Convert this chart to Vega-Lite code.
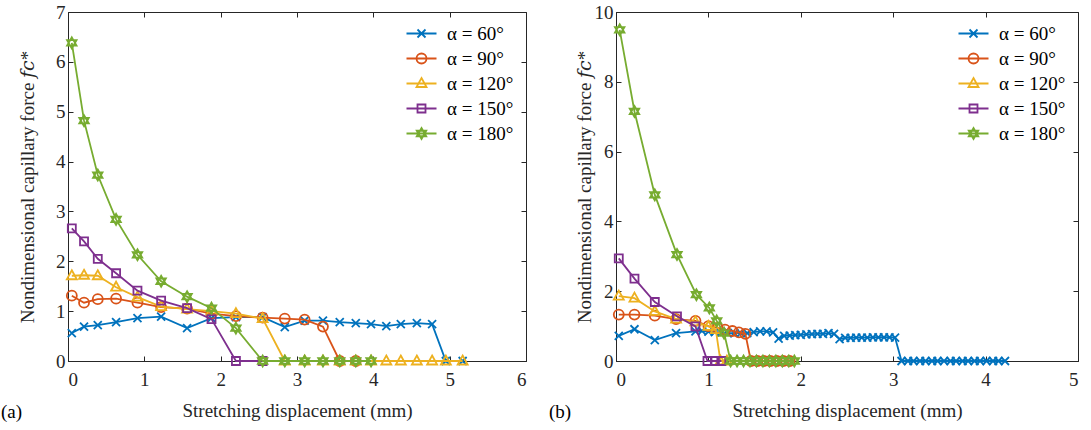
{
  "$schema": "https://vega.github.io/schema/vega-lite/v6.json",
  "background": "white",
  "autosize": {"type": "pad"},
  "padding": {"left": 0, "top": 2, "right": 4, "bottom": 0},
  "spacing": 21,
  "resolve": {"scale": {"color": "independent", "shape": "independent"}, "legend": {"color": "independent", "shape": "independent"}},
  "config": {
    "font": "Liberation Serif",
    "view": {"stroke": "#262626", "strokeWidth": 1},
    "axis": {
      "grid": false,
      "domainColor": "#262626",
      "tickColor": "#262626",
      "labelColor": "#262626",
      "titleColor": "#262626",
      "labelFont": "Liberation Serif",
      "titleFont": "Liberation Serif, DejaVu Serif",
      "labelFontSize": 19,
      "titleFontSize": 19,
      "titleFontWeight": "normal",
      "tickSize": -5,
      "labelPadding": 8
    },
    "axisX": {"titlePadding": 12, "labelPadding": 14},
    "axisY": {"titlePadding": 8},
    "legend": {
      "orient": "top-right",
      "offset": 8,
      "padding": 4,
      "labelFont": "Liberation Serif",
      "labelFontSize": 19,
      "labelColor": "#000000",
      "symbolSize": 100,
      "symbolStrokeWidth": 1.8,
      "labelOffset": 16,
      "rowPadding": 5,
      "title": null
    },
    "title": {"font": "Liberation Serif", "fontSize": 19, "fontWeight": "normal", "color": "#000000"}
  },
  "datasets": {
    "a": [
      {"s": "α = 60°", "x": 0.05, "y": 0.56}, {"s": "α = 60°", "x": 0.21, "y": 0.69}, {"s": "α = 60°", "x": 0.39, "y": 0.72}, {"s": "α = 60°", "x": 0.63, "y": 0.78}, {"s": "α = 60°", "x": 0.91, "y": 0.86}, {"s": "α = 60°", "x": 1.22, "y": 0.89}, {"s": "α = 60°", "x": 1.56, "y": 0.66}, {"s": "α = 60°", "x": 1.88, "y": 0.86}, {"s": "α = 60°", "x": 2.2, "y": 0.88}, {"s": "α = 60°", "x": 2.55, "y": 0.88}, {"s": "α = 60°", "x": 2.84, "y": 0.68}, {"s": "α = 60°", "x": 3.1, "y": 0.81}, {"s": "α = 60°", "x": 3.34, "y": 0.81}, {"s": "α = 60°", "x": 3.56, "y": 0.78}, {"s": "α = 60°", "x": 3.77, "y": 0.76}, {"s": "α = 60°", "x": 3.97, "y": 0.74}, {"s": "α = 60°", "x": 4.17, "y": 0.7}, {"s": "α = 60°", "x": 4.36, "y": 0.74}, {"s": "α = 60°", "x": 4.57, "y": 0.76}, {"s": "α = 60°", "x": 4.77, "y": 0.74}, {"s": "α = 60°", "x": 4.95, "y": 0}, {"s": "α = 60°", "x": 5.17, "y": 0},
      {"s": "α = 90°", "x": 0.05, "y": 1.31}, {"s": "α = 90°", "x": 0.21, "y": 1.17}, {"s": "α = 90°", "x": 0.39, "y": 1.24}, {"s": "α = 90°", "x": 0.63, "y": 1.25}, {"s": "α = 90°", "x": 0.91, "y": 1.17}, {"s": "α = 90°", "x": 1.22, "y": 1.08}, {"s": "α = 90°", "x": 1.56, "y": 1.05}, {"s": "α = 90°", "x": 1.88, "y": 0.95}, {"s": "α = 90°", "x": 2.2, "y": 0.9}, {"s": "α = 90°", "x": 2.55, "y": 0.87}, {"s": "α = 90°", "x": 2.84, "y": 0.85}, {"s": "α = 90°", "x": 3.1, "y": 0.83}, {"s": "α = 90°", "x": 3.34, "y": 0.69}, {"s": "α = 90°", "x": 3.56, "y": 0}, {"s": "α = 90°", "x": 3.77, "y": 0},
      {"s": "α = 120°", "x": 0.05, "y": 1.71}, {"s": "α = 120°", "x": 0.21, "y": 1.72}, {"s": "α = 120°", "x": 0.39, "y": 1.71}, {"s": "α = 120°", "x": 0.63, "y": 1.48}, {"s": "α = 120°", "x": 0.91, "y": 1.28}, {"s": "α = 120°", "x": 1.22, "y": 1.09}, {"s": "α = 120°", "x": 1.56, "y": 1.04}, {"s": "α = 120°", "x": 1.88, "y": 1.0}, {"s": "α = 120°", "x": 2.2, "y": 0.95}, {"s": "α = 120°", "x": 2.55, "y": 0.85}, {"s": "α = 120°", "x": 2.84, "y": 0}, {"s": "α = 120°", "x": 3.1, "y": 0}, {"s": "α = 120°", "x": 3.34, "y": 0}, {"s": "α = 120°", "x": 3.56, "y": 0}, {"s": "α = 120°", "x": 3.77, "y": 0}, {"s": "α = 120°", "x": 3.97, "y": 0}, {"s": "α = 120°", "x": 4.17, "y": 0}, {"s": "α = 120°", "x": 4.36, "y": 0}, {"s": "α = 120°", "x": 4.57, "y": 0}, {"s": "α = 120°", "x": 4.77, "y": 0}, {"s": "α = 120°", "x": 4.95, "y": 0}, {"s": "α = 120°", "x": 5.17, "y": 0},
      {"s": "α = 150°", "x": 0.05, "y": 2.66}, {"s": "α = 150°", "x": 0.21, "y": 2.4}, {"s": "α = 150°", "x": 0.39, "y": 2.05}, {"s": "α = 150°", "x": 0.63, "y": 1.76}, {"s": "α = 150°", "x": 0.91, "y": 1.41}, {"s": "α = 150°", "x": 1.22, "y": 1.21}, {"s": "α = 150°", "x": 1.56, "y": 1.06}, {"s": "α = 150°", "x": 1.88, "y": 0.84}, {"s": "α = 150°", "x": 2.2, "y": 0}, {"s": "α = 150°", "x": 2.55, "y": 0},
      {"s": "α = 180°", "x": 0.05, "y": 6.38}, {"s": "α = 180°", "x": 0.21, "y": 4.82}, {"s": "α = 180°", "x": 0.39, "y": 3.73}, {"s": "α = 180°", "x": 0.63, "y": 2.84}, {"s": "α = 180°", "x": 0.91, "y": 2.13}, {"s": "α = 180°", "x": 1.22, "y": 1.6}, {"s": "α = 180°", "x": 1.56, "y": 1.29}, {"s": "α = 180°", "x": 1.88, "y": 1.06}, {"s": "α = 180°", "x": 2.2, "y": 0.66}, {"s": "α = 180°", "x": 2.55, "y": 0}, {"s": "α = 180°", "x": 2.84, "y": 0}, {"s": "α = 180°", "x": 3.1, "y": 0}, {"s": "α = 180°", "x": 3.34, "y": 0}, {"s": "α = 180°", "x": 3.56, "y": 0}, {"s": "α = 180°", "x": 3.77, "y": 0}, {"s": "α = 180°", "x": 3.97, "y": 0}
    ],
    "b": [
      {"s": "α = 60°", "x": 0.03, "y": 0.72}, {"s": "α = 60°", "x": 0.2, "y": 0.91}, {"s": "α = 60°", "x": 0.42, "y": 0.6}, {"s": "α = 60°", "x": 0.65, "y": 0.8}, {"s": "α = 60°", "x": 0.86, "y": 0.85}, {"s": "α = 60°", "x": 0.93, "y": 0.86}, {"s": "α = 60°", "x": 1.0, "y": 0.84}, {"s": "α = 60°", "x": 1.07, "y": 0.83}, {"s": "α = 60°", "x": 1.14, "y": 0.82}, {"s": "α = 60°", "x": 1.21, "y": 0.8}, {"s": "α = 60°", "x": 1.28, "y": 0.8}, {"s": "α = 60°", "x": 1.35, "y": 0.8}, {"s": "α = 60°", "x": 1.42, "y": 0.8}, {"s": "α = 60°", "x": 1.49, "y": 0.83}, {"s": "α = 60°", "x": 1.56, "y": 0.85}, {"s": "α = 60°", "x": 1.63, "y": 0.85}, {"s": "α = 60°", "x": 1.7, "y": 0.82}, {"s": "α = 60°", "x": 1.76, "y": 0.64}, {"s": "α = 60°", "x": 1.82, "y": 0.72}, {"s": "α = 60°", "x": 1.88, "y": 0.73}, {"s": "α = 60°", "x": 1.94, "y": 0.74}, {"s": "α = 60°", "x": 2.0, "y": 0.75}, {"s": "α = 60°", "x": 2.06, "y": 0.76}, {"s": "α = 60°", "x": 2.12, "y": 0.77}, {"s": "α = 60°", "x": 2.18, "y": 0.78}, {"s": "α = 60°", "x": 2.24, "y": 0.78}, {"s": "α = 60°", "x": 2.3, "y": 0.8}, {"s": "α = 60°", "x": 2.36, "y": 0.78}, {"s": "α = 60°", "x": 2.42, "y": 0.63}, {"s": "α = 60°", "x": 2.48, "y": 0.66}, {"s": "α = 60°", "x": 2.54, "y": 0.66}, {"s": "α = 60°", "x": 2.6, "y": 0.67}, {"s": "α = 60°", "x": 2.66, "y": 0.67}, {"s": "α = 60°", "x": 2.72, "y": 0.67}, {"s": "α = 60°", "x": 2.78, "y": 0.68}, {"s": "α = 60°", "x": 2.84, "y": 0.68}, {"s": "α = 60°", "x": 2.9, "y": 0.68}, {"s": "α = 60°", "x": 2.96, "y": 0.68}, {"s": "α = 60°", "x": 3.02, "y": 0.67}, {"s": "α = 60°", "x": 3.09, "y": 0}, {"s": "α = 60°", "x": 3.16, "y": 0}, {"s": "α = 60°", "x": 3.22, "y": 0}, {"s": "α = 60°", "x": 3.29, "y": 0}, {"s": "α = 60°", "x": 3.35, "y": 0}, {"s": "α = 60°", "x": 3.42, "y": 0}, {"s": "α = 60°", "x": 3.48, "y": 0}, {"s": "α = 60°", "x": 3.55, "y": 0}, {"s": "α = 60°", "x": 3.62, "y": 0}, {"s": "α = 60°", "x": 3.68, "y": 0}, {"s": "α = 60°", "x": 3.75, "y": 0}, {"s": "α = 60°", "x": 3.81, "y": 0}, {"s": "α = 60°", "x": 3.88, "y": 0}, {"s": "α = 60°", "x": 3.94, "y": 0}, {"s": "α = 60°", "x": 4.01, "y": 0}, {"s": "α = 60°", "x": 4.08, "y": 0}, {"s": "α = 60°", "x": 4.14, "y": 0}, {"s": "α = 60°", "x": 4.21, "y": 0},
      {"s": "α = 90°", "x": 0.03, "y": 1.33}, {"s": "α = 90°", "x": 0.2, "y": 1.33}, {"s": "α = 90°", "x": 0.42, "y": 1.3}, {"s": "α = 90°", "x": 0.65, "y": 1.2}, {"s": "α = 90°", "x": 0.86, "y": 1.15}, {"s": "α = 90°", "x": 1.0, "y": 1.0}, {"s": "α = 90°", "x": 1.1, "y": 0.95}, {"s": "α = 90°", "x": 1.18, "y": 0.9}, {"s": "α = 90°", "x": 1.26, "y": 0.86}, {"s": "α = 90°", "x": 1.33, "y": 0.82}, {"s": "α = 90°", "x": 1.4, "y": 0.78}, {"s": "α = 90°", "x": 1.46, "y": 0}, {"s": "α = 90°", "x": 1.53, "y": 0}, {"s": "α = 90°", "x": 1.6, "y": 0}, {"s": "α = 90°", "x": 1.67, "y": 0}, {"s": "α = 90°", "x": 1.74, "y": 0}, {"s": "α = 90°", "x": 1.81, "y": 0}, {"s": "α = 90°", "x": 1.88, "y": 0},
      {"s": "α = 120°", "x": 0.03, "y": 1.86}, {"s": "α = 120°", "x": 0.2, "y": 1.8}, {"s": "α = 120°", "x": 0.42, "y": 1.42}, {"s": "α = 120°", "x": 0.65, "y": 1.2}, {"s": "α = 120°", "x": 0.86, "y": 1.12}, {"s": "α = 120°", "x": 1.0, "y": 0.99}, {"s": "α = 120°", "x": 1.08, "y": 0.9}, {"s": "α = 120°", "x": 1.13, "y": 0}, {"s": "α = 120°", "x": 1.2, "y": 0},
      {"s": "α = 150°", "x": 0.03, "y": 2.94}, {"s": "α = 150°", "x": 0.2, "y": 2.36}, {"s": "α = 150°", "x": 0.42, "y": 1.69}, {"s": "α = 150°", "x": 0.66, "y": 1.28}, {"s": "α = 150°", "x": 0.86, "y": 0.99}, {"s": "α = 150°", "x": 0.99, "y": 0}, {"s": "α = 150°", "x": 1.07, "y": 0}, {"s": "α = 150°", "x": 1.14, "y": 0},
      {"s": "α = 180°", "x": 0.04, "y": 9.49}, {"s": "α = 180°", "x": 0.2, "y": 7.15}, {"s": "α = 180°", "x": 0.42, "y": 4.76}, {"s": "α = 180°", "x": 0.66, "y": 3.05}, {"s": "α = 180°", "x": 0.87, "y": 1.9}, {"s": "α = 180°", "x": 1.01, "y": 1.52}, {"s": "α = 180°", "x": 1.09, "y": 1.15}, {"s": "α = 180°", "x": 1.17, "y": 0.8}, {"s": "α = 180°", "x": 1.24, "y": 0}, {"s": "α = 180°", "x": 1.31, "y": 0}, {"s": "α = 180°", "x": 1.38, "y": 0}, {"s": "α = 180°", "x": 1.45, "y": 0}, {"s": "α = 180°", "x": 1.52, "y": 0}, {"s": "α = 180°", "x": 1.59, "y": 0}, {"s": "α = 180°", "x": 1.66, "y": 0}, {"s": "α = 180°", "x": 1.73, "y": 0}, {"s": "α = 180°", "x": 1.8, "y": 0}, {"s": "α = 180°", "x": 1.87, "y": 0}, {"s": "α = 180°", "x": 1.93, "y": 0}
    ]
  },
  "hconcat": [
    {
      "width": 458,
      "height": 349,
      "data": {"name": "a"},
      "title": {"text": "(a)", "orient": "bottom", "anchor": "start", "frame": "group", "dx": -67, "dy": -21},
      "layer": [
        {
          "transform": [{"filter": {"field": "s", "equal": "α = 60°"}}],
          "mark": {"type": "line", "color": "#0072BD", "strokeWidth": 1.8, "point": {"shape": "M-0.8,-0.8L0.8,0.8M0.8,-0.8L-0.8,0.8", "filled": false, "size": 100, "strokeWidth": 1.8, "opacity": 1, "color": "#0072BD"}},
          "encoding": {
            "x": {"field": "x", "type": "quantitative", "scale": {"domain": [0, 6]}, "axis": {"values": [0, 1, 2, 3, 4, 5, 6], "title": "Stretching displacement (mm)"}},
            "y": {"field": "y", "type": "quantitative", "scale": {"domain": [0, 7]}, "axis": {"values": [0, 1, 2, 3, 4, 5, 6, 7], "title": "Nondimensional capillary force 𝑓𝑐*", "titlePadding": 18}}
          }
        },
        {
          "transform": [{"filter": {"field": "s", "equal": "α = 90°"}}],
          "mark": {"type": "line", "color": "#D95319", "strokeWidth": 1.8, "point": {"shape": "M1,0A1,1 0 1,1 -1,0A1,1 0 1,1 1,0Z", "filled": false, "size": 100, "strokeWidth": 1.8, "opacity": 1, "color": "#D95319"}},
          "encoding": {"x": {"field": "x", "type": "quantitative", "axis": null}, "y": {"field": "y", "type": "quantitative", "axis": null}}
        },
        {
          "transform": [{"filter": {"field": "s", "equal": "α = 120°"}}],
          "mark": {"type": "line", "color": "#EDB120", "strokeWidth": 1.8, "point": {"shape": "M0,-1.1L1,0.7L-1,0.7Z", "filled": false, "size": 100, "strokeWidth": 1.8, "opacity": 1, "color": "#EDB120"}},
          "encoding": {"x": {"field": "x", "type": "quantitative", "axis": null}, "y": {"field": "y", "type": "quantitative", "axis": null}}
        },
        {
          "transform": [{"filter": {"field": "s", "equal": "α = 150°"}}],
          "mark": {"type": "line", "color": "#7E2F8E", "strokeWidth": 1.8, "point": {"shape": "M-0.8,-0.8H0.8V0.8H-0.8Z", "filled": false, "size": 100, "strokeWidth": 1.8, "opacity": 1, "color": "#7E2F8E"}},
          "encoding": {"x": {"field": "x", "type": "quantitative", "axis": null}, "y": {"field": "y", "type": "quantitative", "axis": null}}
        },
        {
          "transform": [{"filter": {"field": "s", "equal": "α = 180°"}}],
          "mark": {"type": "line", "color": "#77AC30", "strokeWidth": 1.8, "point": {"shape": "M0,-1.1L0.95,0.55L-0.95,0.55ZM0,1.1L0.95,-0.55L-0.95,-0.55Z", "filled": false, "size": 100, "strokeWidth": 1.8, "opacity": 1, "color": "#77AC30"}},
          "encoding": {"x": {"field": "x", "type": "quantitative", "axis": null}, "y": {"field": "y", "type": "quantitative", "axis": null}}
        },
        {
          "transform": [{"filter": "false"}],
          "mark": {"type": "point", "filled": false, "strokeWidth": 1.8, "size": 100, "opacity": 1},
          "encoding": {
            "x": {"field": "x", "type": "quantitative", "axis": {"orient": "top", "labels": false, "title": null, "domain": false, "values": [0, 1, 2, 3, 4, 5, 6]}},
            "y": {"field": "y", "type": "quantitative", "axis": {"orient": "right", "labels": false, "title": null, "domain": false, "values": [0, 1, 2, 3, 4, 5, 6, 7]}},
            "color": {"field": "s", "type": "nominal", "legend": {"title": null}, "scale": {"domain": ["α = 60°", "α = 90°", "α = 120°", "α = 150°", "α = 180°"], "range": ["#0072BD", "#D95319", "#EDB120", "#7E2F8E", "#77AC30"]}},
            "shape": {"field": "s", "type": "nominal", "legend": {"title": null}, "scale": {"domain": ["α = 60°", "α = 90°", "α = 120°", "α = 150°", "α = 180°"], "range": ["M-3,0H3M-0.8,-0.8L0.8,0.8M0.8,-0.8L-0.8,0.8", "M-3,0H3M1,0A1,1 0 1,1 -1,0A1,1 0 1,1 1,0Z", "M-3,0H3M0,-1.1L1,0.7L-1,0.7Z", "M-3,0H3M-0.8,-0.8H0.8V0.8H-0.8Z", "M-3,0H3M0,-1.1L0.95,0.55L-0.95,0.55ZM0,1.1L0.95,-0.55L-0.95,-0.55Z"]}}
          }
        }
      ],
      "resolve": {"axis": {"x": "independent", "y": "independent"}}
    },
    {
      "width": 462,
      "height": 349,
      "data": {"name": "b"},
      "title": {"text": "(b)", "orient": "bottom", "anchor": "start", "frame": "group", "dx": -67, "dy": -21},
      "layer": [
        {
          "transform": [{"filter": {"field": "s", "equal": "α = 60°"}}],
          "mark": {"type": "line", "color": "#0072BD", "strokeWidth": 1.8, "point": {"shape": "M-0.8,-0.8L0.8,0.8M0.8,-0.8L-0.8,0.8", "filled": false, "size": 100, "strokeWidth": 1.8, "opacity": 1, "color": "#0072BD"}},
          "encoding": {
            "x": {"field": "x", "type": "quantitative", "scale": {"domain": [0, 5]}, "axis": {"values": [0, 1, 2, 3, 4, 5], "title": "Stretching displacement (mm)"}},
            "y": {"field": "y", "type": "quantitative", "scale": {"domain": [0, 10]}, "axis": {"values": [0, 2, 4, 6, 8, 10], "title": "Nondimensional capillary force 𝑓𝑐*", "titlePadding": 0}}
          }
        },
        {
          "transform": [{"filter": {"field": "s", "equal": "α = 90°"}}],
          "mark": {"type": "line", "color": "#D95319", "strokeWidth": 1.8, "point": {"shape": "M1,0A1,1 0 1,1 -1,0A1,1 0 1,1 1,0Z", "filled": false, "size": 100, "strokeWidth": 1.8, "opacity": 1, "color": "#D95319"}},
          "encoding": {"x": {"field": "x", "type": "quantitative", "axis": null}, "y": {"field": "y", "type": "quantitative", "axis": null}}
        },
        {
          "transform": [{"filter": {"field": "s", "equal": "α = 120°"}}],
          "mark": {"type": "line", "color": "#EDB120", "strokeWidth": 1.8, "point": {"shape": "M0,-1.1L1,0.7L-1,0.7Z", "filled": false, "size": 100, "strokeWidth": 1.8, "opacity": 1, "color": "#EDB120"}},
          "encoding": {"x": {"field": "x", "type": "quantitative", "axis": null}, "y": {"field": "y", "type": "quantitative", "axis": null}}
        },
        {
          "transform": [{"filter": {"field": "s", "equal": "α = 150°"}}],
          "mark": {"type": "line", "color": "#7E2F8E", "strokeWidth": 1.8, "point": {"shape": "M-0.8,-0.8H0.8V0.8H-0.8Z", "filled": false, "size": 100, "strokeWidth": 1.8, "opacity": 1, "color": "#7E2F8E"}},
          "encoding": {"x": {"field": "x", "type": "quantitative", "axis": null}, "y": {"field": "y", "type": "quantitative", "axis": null}}
        },
        {
          "transform": [{"filter": {"field": "s", "equal": "α = 180°"}}],
          "mark": {"type": "line", "color": "#77AC30", "strokeWidth": 1.8, "point": {"shape": "M0,-1.1L0.95,0.55L-0.95,0.55ZM0,1.1L0.95,-0.55L-0.95,-0.55Z", "filled": false, "size": 100, "strokeWidth": 1.8, "opacity": 1, "color": "#77AC30"}},
          "encoding": {"x": {"field": "x", "type": "quantitative", "axis": null}, "y": {"field": "y", "type": "quantitative", "axis": null}}
        },
        {
          "transform": [{"filter": "false"}],
          "mark": {"type": "point", "filled": false, "strokeWidth": 1.8, "size": 100, "opacity": 1},
          "encoding": {
            "x": {"field": "x", "type": "quantitative", "axis": {"orient": "top", "labels": false, "title": null, "domain": false, "values": [0, 1, 2, 3, 4, 5]}},
            "y": {"field": "y", "type": "quantitative", "axis": {"orient": "right", "labels": false, "title": null, "domain": false, "values": [0, 2, 4, 6, 8, 10]}},
            "color": {"field": "s", "type": "nominal", "legend": {"title": null}, "scale": {"domain": ["α = 60°", "α = 90°", "α = 120°", "α = 150°", "α = 180°"], "range": ["#0072BD", "#D95319", "#EDB120", "#7E2F8E", "#77AC30"]}},
            "shape": {"field": "s", "type": "nominal", "legend": {"title": null}, "scale": {"domain": ["α = 60°", "α = 90°", "α = 120°", "α = 150°", "α = 180°"], "range": ["M-3,0H3M-0.8,-0.8L0.8,0.8M0.8,-0.8L-0.8,0.8", "M-3,0H3M1,0A1,1 0 1,1 -1,0A1,1 0 1,1 1,0Z", "M-3,0H3M0,-1.1L1,0.7L-1,0.7Z", "M-3,0H3M-0.8,-0.8H0.8V0.8H-0.8Z", "M-3,0H3M0,-1.1L0.95,0.55L-0.95,0.55ZM0,1.1L0.95,-0.55L-0.95,-0.55Z"]}}
          }
        }
      ],
      "resolve": {"axis": {"x": "independent", "y": "independent"}}
    }
  ]
}
